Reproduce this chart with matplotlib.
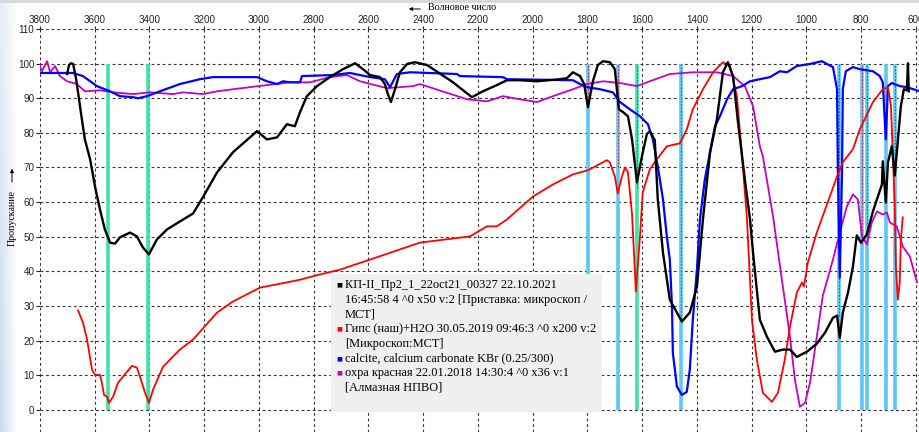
import numpy as np
import matplotlib
matplotlib.use("Agg")
import matplotlib.pyplot as plt
from matplotlib.patches import Rectangle

# ---------------------------------------------------------------
# Спектры (волновое число, см-1 / пропускание, %)
# ---------------------------------------------------------------
black_wn = [3701, 3694, 3687, 3679, 3668, 3661, 3647, 3636, 3617, 3599, 3581, 3563, 3544,
            3526, 3508, 3471, 3446, 3424, 3402, 3373, 3336, 3289, 3241, 3205, 3153, 3095,
            3007, 2971, 2934, 2898, 2869, 2850, 2825, 2788, 2741, 2693, 2649, 2620, 2594,
            2558, 2540, 2529, 2518, 2503, 2485, 2459, 2430, 2386, 2291, 2222, 2182, 2131,
            2094, 2047, 1984, 1900, 1875, 1853, 1827, 1812, 1798, 1780, 1762, 1743, 1718,
            1700, 1685, 1670, 1652, 1637, 1619, 1601, 1583, 1572, 1554, 1543, 1524, 1499,
            1455, 1426, 1400, 1378, 1352, 1327, 1305, 1287, 1268, 1250, 1225, 1206, 1195,
            1170, 1144, 1115, 1086, 1060, 1035, 998, 962, 932, 903, 888, 878, 867, 848,
            830, 816, 801, 779, 757, 724, 721, 710, 702, 688, 677, 655, 644, 633, 629, 626]
black_t = [97.0, 99.6, 100.1, 99.9, 95.5, 91.7, 83.9, 78.1, 72.4, 64.5, 57.9, 52.1, 48.3,
           48.0, 49.8, 51.2, 50.1, 46.9, 44.9, 49.2, 52.1, 54.4, 56.7, 61.4, 68.6, 74.4,
           80.5, 78.1, 78.7, 82.5, 81.9, 86.0, 90.6, 93.5, 96.1, 98.4, 100.1, 98.4, 96.7,
           96.1, 94.1, 91.2, 88.9, 92.6, 97.5, 99.9, 100.4, 99.6, 94.6, 90.3, 92.0, 93.8,
           95.2, 95.2, 94.9, 95.5, 95.8, 97.5, 96.4, 94.1, 87.4, 94.9, 99.6, 100.7, 100.4,
           98.4, 86.8, 86.0, 84.8, 78.1, 65.7, 73.2, 79.6, 80.5, 77.9, 60.8, 45.4, 31.8,
           25.5, 28.1, 35.6, 55.0, 74.4, 83.9, 97.5, 100.4, 96.4, 83.1, 66.6, 55.0, 45.4,
           26.0, 21.1, 16.8, 17.4, 17.4, 15.3, 16.8, 19.1, 22.3, 26.6, 27.2, 20.8, 28.1, 33.9,
           41.4, 50.4, 48.3, 50.7, 57.3, 65.1, 71.8, 59.9, 71.5, 76.1, 67.7, 87.7, 92.6, 92.3,
           100.1, 92.0]

red_wn = [3661, 3643, 3628, 3610, 3599, 3581, 3574, 3566, 3555, 3548, 3533, 3515, 3497,
          3464, 3446, 3435, 3416, 3402, 3387, 3351, 3289, 3241, 3153, 3095, 2996, 2898,
          2850, 2777, 2704, 2594, 2412, 2229, 2167, 2131, 2094, 1999, 1926, 1853, 1798,
          1729, 1718, 1700, 1689, 1674, 1663, 1652, 1637, 1623, 1608, 1598, 1572, 1546,
          1510, 1462, 1437, 1415, 1378, 1341, 1305, 1279, 1254, 1235, 1217, 1199, 1181,
          1159, 1126, 1104, 1079, 1060, 1035, 1016, 1009, 995, 962, 925, 888, 867, 830,
          805, 757, 721, 702, 691, 684, 677, 673, 666, 659, 655, 648]
red_t = [28.7, 25.2, 20.3, 11.6, 10.1, 10.1, 7.8, 4.3, 3.8, 2.0, 3.8, 7.8, 9.6,
         12.7, 12.2, 9.6, 4.9, 2.0, 5.8, 12.4, 17.4, 20.3, 28.1, 31.3, 35.3, 36.8,
         37.6, 39.1, 40.5, 43.4, 48.3, 50.1, 53.0, 53.0, 55.0, 61.6, 65.1, 68.0, 69.2,
         72.1, 71.5, 67.4, 62.5, 67.4, 70.0, 68.6, 56.4, 34.2, 50.1, 62.8, 69.5, 72.4,
         76.1, 77.0, 81.0, 86.8, 92.6, 97.5, 100.4, 99.3, 90.6, 73.2, 55.0, 26.0, 14.5,
         4.9, 2.3, 4.9, 14.5, 24.0, 33.9, 36.8, 35.6, 42.5, 51.2, 59.3, 67.4, 71.5, 75.3,
         81.0, 88.9, 92.6, 93.2, 87.7, 73.2, 58.8, 41.4, 31.8, 36.8, 49.2, 55.6]

blue_wn = [3815, 3679, 3643, 3592, 3544, 3508, 3460, 3442, 3409, 3362, 3289, 3216, 3168,
           3007, 2971, 2934, 2912, 2887, 2850, 2843, 2730, 2668, 2594, 2540, 2521, 2496,
           2448, 2277, 2266, 2109, 2094, 1853, 1827, 1802, 1754, 1707, 1681, 1645, 1608,
           1579, 1561, 1543, 1524, 1510, 1499, 1491, 1488, 1473, 1455, 1437, 1426, 1415,
           1400, 1389, 1371, 1352, 1334, 1316, 1290, 1268, 1235, 1206, 1170, 1133, 1097,
           1071, 1035, 987, 943, 925, 903, 888, 885, 878, 870, 867, 856, 830, 805, 757,
           732, 721, 710, 702, 688, 659, 633, 585]
blue_t = [97.3, 97.3, 96.4, 93.5, 92.0, 90.6, 90.3, 90.0, 90.6, 92.0, 94.1, 95.5, 96.1,
          96.1, 94.9, 94.1, 94.9, 94.6, 94.6, 96.4, 96.7, 97.3, 96.1, 95.5, 93.2, 97.0,
          97.5, 97.0, 96.4, 96.1, 95.5, 95.2, 94.1, 93.2, 92.6, 91.7, 88.9, 86.8, 84.8,
          82.5, 78.1, 70.3, 60.8, 50.1, 43.4, 29.8, 16.5, 6.7, 4.3, 5.2, 11.6, 26.0,
          40.5, 55.0, 66.6, 74.4, 81.9, 84.8, 89.7, 92.6, 93.5, 94.9, 95.5, 96.1, 97.8,
          97.5, 99.3, 99.9, 100.7, 99.9, 99.0, 92.6, 68.6, 38.2, 68.6, 92.6, 97.8, 99.0,
          98.4, 97.8, 96.4, 94.6, 78.1, 93.5, 94.4, 93.5, 93.2, 92.0]

mag_wn = [3807, 3793, 3774, 3763, 3745, 3727, 3701, 3665, 3636, 3581, 3533, 3460, 3398,
          3314, 3278, 3205, 3153, 3095, 3033, 2971, 2887, 2814, 2741, 2679, 2631, 2532,
          2437, 2412, 2240, 2167, 2109, 2047, 1984, 1926, 1853, 1802, 1743, 1681, 1619,
          1572, 1499, 1415, 1327, 1268, 1225, 1195, 1170, 1159, 1122, 1086, 1060, 1042,
          1024, 1005, 987, 962, 940, 903, 878, 852, 830, 812, 797, 779, 761, 742, 721,
          706, 695, 670, 648, 622, 596]
mag_t = [100.7, 97.8, 100.7, 97.5, 99.3, 96.4, 94.9, 94.1, 92.0, 92.3, 91.7, 91.2, 91.7,
         91.2, 91.7, 91.2, 92.0, 92.6, 93.2, 93.8, 94.6, 94.6, 96.1, 96.7, 94.9, 92.9,
         93.5, 94.1, 89.7, 89.1, 90.6, 89.7, 88.9, 90.6, 92.6, 94.1, 94.9, 94.4, 93.5,
         94.9, 97.0, 97.5, 97.5, 96.4, 93.5, 87.7, 76.1, 73.2, 55.9, 35.6, 21.1, 8.7,
         0.9, 2.0, 7.8, 21.1, 33.0, 43.4, 51.2, 58.8, 62.2, 60.8, 50.1, 47.8, 54.1, 57.3,
         56.4, 57.0, 54.1, 53.0, 47.2, 44.3, 36.8]

# отмеченные полосы
marks_blue = [1798, 1689, 1458, 881, 797, 779, 710, 677]
marks_green = [3552, 3405, 1619]
peaks_red = [1798, 1689, 1619, 1458, 881, 797, 779, 677]
peaks_red_t = [87.4, 70.0, 64.0, 25.5, 27.0, 48.0, 50.0, 68.0]

legend_names = ["КП-II_Пр2_1_22oct21_00327 22.10.2021\n16:45:58 4 ^0 x50 v:2 [Приставка: микроскоп /\nMCT]",
                "Гипс (наш)+H2O 30.05.2019 09:46:3 ^0 x200 v:2\n[Микроскоп:MCT]",
                "calcite, calcium carbonate KBr (0.25/300)",
                "охра красная 22.01.2018 14:30:4 ^0 x36 v:1\n[Алмазная НПВО]"]
MAG = "#c400c4"
legend_colors = ["black", "red", "blue", MAG]

W, H = 920, 432
fig = plt.figure(figsize=(W / 100, H / 100), dpi=100)

# рамка окна слева/сверху
bg = fig.add_axes([0, 0, 18 / W, 1])
grad = np.ones((H, 18, 4))
grad[..., 0] = 0.80
grad[..., 1] = 0.86
grad[..., 2] = 0.93
fade = np.linspace(1, 0, 18)[None, :] * np.linspace(0.5, 1.0, H)[:, None]
grad[..., 3] = fade
bg.imshow(grad, aspect="auto", extent=[0, 1, 0, 1])
bg.axis("off")
fig.add_artist(Rectangle((0, 1 - 3 / H), 1, 3 / H, transform=fig.transFigure,
                         facecolor="#d8d8d8", edgecolor="none"))

ax = fig.add_axes([40 / W, 0, 1 - 40 / W, 1 - 29 / H])
ax.set_facecolor("none")
ax.set_xlim(3800, 585)
ax.set_ylim(-6.4, 110)
for s in ax.spines.values():
    s.set_visible(False)

ax.set_xticks(np.arange(3800, 599, -200))
ax.set_yticks(np.arange(0, 111, 10))
ax.xaxis.tick_top()
ax.tick_params(axis="x", length=2, pad=1, labelsize=7.1, colors="#222222")
ax.tick_params(axis="y", length=3, pad=1, labelsize=7.1, colors="#222222")
for lab in ax.get_xticklabels() + ax.get_yticklabels():
    lab.set_family("Liberation Sans")
ax.grid(True, color="#333333", lw=0.8, ls=(0, (2.5, 2.5)), zorder=0)
ax.set_axisbelow(True)

ax.vlines(marks_blue, 0, 100, colors="#5cc6f6", lw=2.6, zorder=1)
ax.vlines(marks_green, 0, 100, colors="#3fe3a8", lw=2.6, zorder=1)
ax.vlines(peaks_red, peaks_red_t, 100, colors="red", lw=0.6, ls=(0, (2, 2)), zorder=1.5)

ax.plot(mag_wn, mag_t, color=MAG, lw=1.3, zorder=2)
ax.plot(blue_wn, blue_t, color="blue", lw=1.6, zorder=3)
ax.plot(red_wn, red_t, color="red", lw=1.3, zorder=4)
ax.plot(black_wn, black_t, color="black", lw=1.7, zorder=5)

# подписи осей
serif = "Liberation Serif"
fig.text(428 / W, 1 - 8 / H, "Волновое число", family=serif, fontsize=7.2,
         ha="left", va="center")
fig.add_artist(matplotlib.patches.FancyArrowPatch((423 / W, 1 - 9 / H), (406 / W, 1 - 9 / H),
               transform=fig.transFigure, arrowstyle="-|>", mutation_scale=5, lw=0.7,
               color="black"))
fig.text(12 / W, 1 - 218 / H, "Пропускание", family=serif, fontsize=7.2,
         rotation=90, ha="center", va="center")
fig.add_artist(matplotlib.patches.FancyArrowPatch((12 / W, 1 - 185 / H), (12 / W, 1 - 166 / H),
               transform=fig.transFigure, arrowstyle="-|>", mutation_scale=5, lw=0.7,
               color="black"))

# легенда
fig.add_artist(Rectangle((331 / W, 1 - 412 / H), 271 / W, 138 / H, transform=fig.transFigure,
                         facecolor="#efefef", edgecolor="none", zorder=10))
y = 285
step = 14.7
for name, c in zip(legend_names, legend_colors):
    fig.text(339 / W, 1 - y / H, "■", family="DejaVu Sans", fontsize=4.5, color=c,
             ha="center", va="center", zorder=11)
    for line in name.split("\n"):
        fig.text(345 / W, 1 - y / H, line, family=serif, fontsize=8.9, color="black",
                 ha="left", va="center", zorder=11)
        y += step

fig.savefig("out.png", dpi=100)
